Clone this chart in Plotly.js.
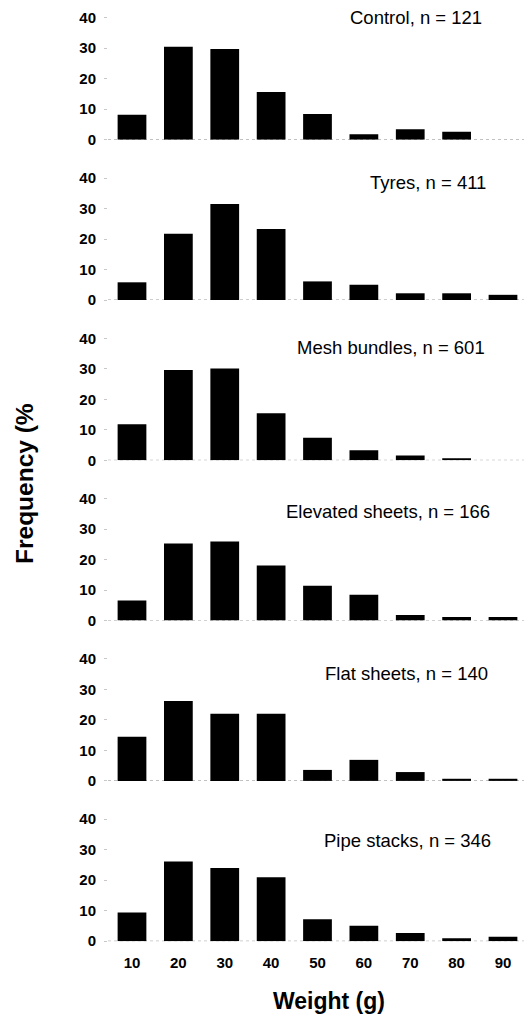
<!DOCTYPE html>
<html>
<head>
<meta charset="utf-8">
<script src="https://cdn.plot.ly/plotly-3.0.1.min.js"></script>
<style>html,body{margin:0;padding:0;background:#fff;}#chart{width:524px;height:1015px;}</style>
</head>
<body>
<div id="chart"></div>
<script>
// ---- data ----
const weights = [10, 20, 30, 40, 50, 60, 70, 80, 90];
const control        = [8.2, 30.5, 29.7, 15.6, 8.4, 1.8, 3.4, 2.6];
const tyres          = [5.8, 21.7, 31.5, 23.3, 6.1, 5.0, 2.2, 2.2, 1.7];
const meshBundles    = [11.8, 29.6, 30.1, 15.4, 7.4, 3.3, 1.6, 0.7];
const elevatedSheets = [6.6, 25.3, 25.9, 18.1, 11.4, 8.5, 1.8, 1.2, 1.2];
const flatSheets     = [14.5, 26.2, 22.0, 22.0, 3.6, 6.9, 2.9, 0.7, 0.7];
const pipeStacks     = [9.4, 26.1, 24.0, 21.0, 7.2, 5.1, 2.7, 1.0, 1.5];
const groupNames = ["Control", "Tyres", "Mesh bundles", "Elevated sheets", "Flat sheets", "Pipe stacks"];
const groupN     = [121, 411, 601, 166, 140, 346];
const yTicks = [0, 10, 20, 30, 40];
const xTitle = "Weight (g)";
const yTitle = "Frequency (%";

const series = [control, tyres, meshBundles, elevatedSheets, flatSheets, pipeStacks];

// ---- layout geometry (pixels) ----
const W = 524, H = 1015;
const LEFT = 108;
const zeroPx = [139.7, 300.0, 460.3, 620.6, 780.9, 941.2];
const panelH = 122;                       // 0..40
const labelYPx = [17, 182, 347, 512, 673, 840];
const labelRightPx = [484, 488, 487, 492, 490, 493];
const fy = px => 1 - px / H;
const fx = px => (px - LEFT) / (W - LEFT);

const font = 'Liberation Sans, Arial, Helvetica, sans-serif';
const traces = [];
const layout = {
  width: W, height: H, autosize: false,
  margin: {l: LEFT, r: 0, t: 0, b: 0, pad: 0},
  paper_bgcolor: '#fff', plot_bgcolor: '#fff',
  showlegend: false,
  bargap: 0.38,
  font: {family: font, color: '#000'},
  xaxis: {
    range: [4.825, 94.53], anchor: 'y6',
    tickvals: weights, ticktext: weights.map(String),
    showgrid: false, zeroline: false, showline: false, ticks: '',
    ticklabelstandoff: 11,
    tickfont: {family: font, size: 15, weight: 700, color: '#000'}
  },
  shapes: [], annotations: []
};

series.forEach((vals, i) => {
  const ax = i === 0 ? 'y' : 'y' + (i + 1);
  const axKey = i === 0 ? 'yaxis' : 'yaxis' + (i + 1);
  traces.push({
    type: 'bar', x: weights.slice(0, vals.length), y: vals,
    xaxis: 'x', yaxis: ax, width: 6.2,
    marker: {color: '#000', line: {width: 0}},
    hoverinfo: 'skip'
  });
  layout[axKey] = {
    domain: [fy(zeroPx[i]), fy(zeroPx[i] - panelH)],
    range: [0, 40], anchor: 'x',
    tickvals: yTicks, ticktext: yTicks.map(String),
    showgrid: false, zeroline: false, showline: false,
    ticks: 'outside', ticklen: 3, tickwidth: 1, tickcolor: '#c8c8c8',
    ticklabelstandoff: 5,
    tickfont: {family: font, size: 15, weight: 700, color: '#000'}
  };
  layout.shapes.push({
    type: 'line', xref: 'paper', yref: ax,
    x0: 0, x1: 1, y0: 0, y1: 0,
    line: {color: '#9a9a9a', width: 1, dash: 'dot'}, layer: 'below'
  });
  layout.annotations.push({
    xref: 'paper', yref: 'paper',
    x: fx(labelRightPx[i]), y: fy(labelYPx[i]),
    xanchor: 'right', yanchor: 'middle', showarrow: false,
    text: groupNames[i] + ', n = ' + groupN[i],
    font: {family: font, size: 18.5, color: '#000'}
  });
});

layout.annotations.push({
  xref: 'paper', yref: 'paper', x: fx(329), y: fy(1001),
  xanchor: 'center', yanchor: 'middle', showarrow: false,
  text: xTitle, font: {family: font, size: 23, weight: 700, color: '#000'}
});
layout.annotations.push({
  xref: 'paper', yref: 'paper', x: fx(24), y: fy(484),
  xanchor: 'center', yanchor: 'middle', showarrow: false, textangle: -90,
  text: yTitle, font: {family: font, size: 24.5, weight: 700, color: '#000'}
});

Plotly.newPlot('chart', traces, layout, {staticPlot: true, displayModeBar: false});
</script>
</body>
</html>
